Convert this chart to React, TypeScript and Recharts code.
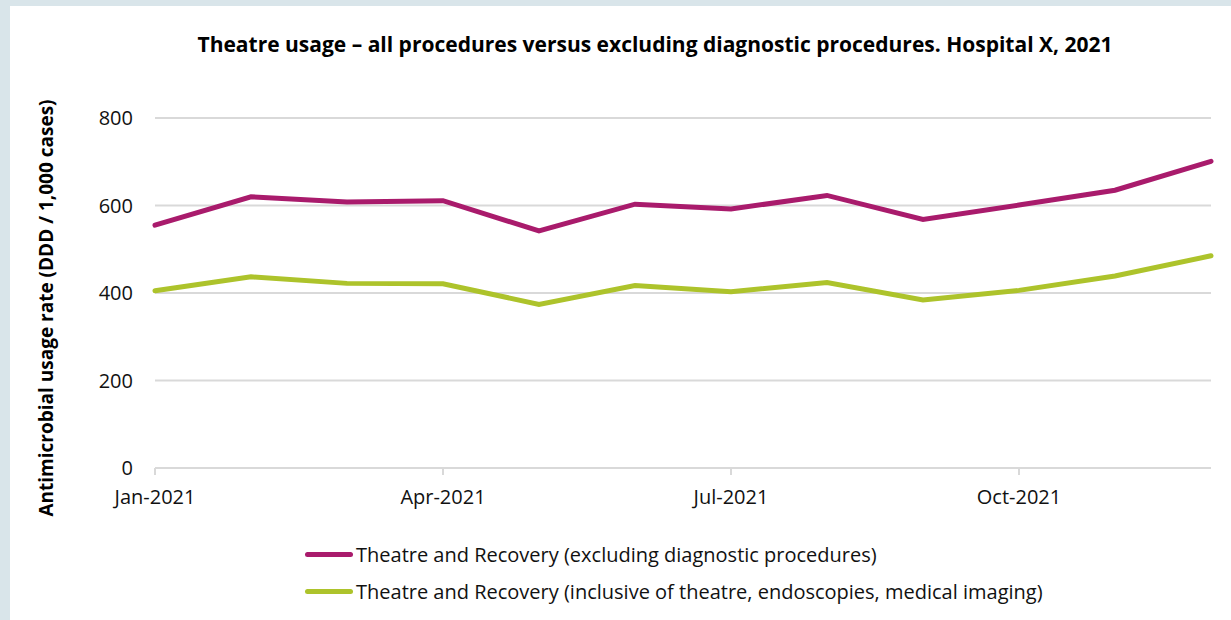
import { LineChart, Line, XAxis, YAxis, CartesianGrid } from 'recharts';

const months = [
  'Jan-2021', 'Feb-2021', 'Mar-2021', 'Apr-2021', 'May-2021', 'Jun-2021',
  'Jul-2021', 'Aug-2021', 'Sep-2021', 'Oct-2021', 'Nov-2021', 'Dec-2021',
];

// DDD / 1,000 cases
const excludingDiagnostic = [555, 620, 608, 611, 542, 603, 592, 623, 568, 601, 635, 701];
const inclusiveAll = [405, 437, 422, 421, 374, 417, 403, 424, 384, 406, 439, 485];

const yTicks = [0, 200, 400, 600, 800];

const seriesNames = [
  'Theatre and Recovery (excluding diagnostic procedures)',
  'Theatre and Recovery (inclusive of theatre, endoscopies, medical imaging)',
];

const MAGENTA = '#a91b6c';
const LIME = '#adc32b';
const GRID = '#d9d9d9';
const FONT = '"Open Sans", Lato, sans-serif';

const data = months.map((m, i) => ({
  month: m,
  excl: excludingDiagnostic[i],
  incl: inclusiveAll[i],
}));

const legendItems = [
  { name: seriesNames[0], color: MAGENTA },
  { name: seriesNames[1], color: LIME },
];

export default function App() {
  return (
    <div style={{ position: 'absolute', left: 0, top: 0, width: 1231, height: 620, background: '#d9e5ea', overflow: 'hidden' }}>
      <div style={{ position: 'absolute', left: 10, top: 6, width: 1221, height: 614, background: '#fff' }} />
      <div
        style={{
          position: 'absolute', left: 0, top: 30, width: 1310, textAlign: 'center',
          fontFamily: FONT, fontWeight: 700, fontSize: 21, color: '#000',
        }}
      >
        Theatre usage – all procedures versus excluding diagnostic procedures. Hospital X, 2021
      </div>
      <div style={{ position: 'absolute', left: 0, top: 0 }}>
        <LineChart width={1231} height={620} data={data} margin={{ top: 118, right: 20, bottom: 122, left: 10 }}>
          <CartesianGrid vertical={false} stroke={GRID} strokeWidth={2} />
          <XAxis
            dataKey="month"
            interval={2}
            stroke={GRID}
            strokeWidth={2}
            tickSize={7}
            tickMargin={15}
            tick={{ fill: '#111', fontSize: 20, fontFamily: FONT }}
          />
          <YAxis
            width={145}
            domain={[0, 800]}
            ticks={yTicks}
            axisLine={false}
            tickLine={false}
            tickMargin={16}
            tick={{ fill: '#111', fontSize: 20, fontFamily: FONT }}
            label={{
              value: 'Antimicrobial usage rate (DDD / 1,000 cases)',
              angle: -90,
              position: 'center',
              dx: -36,
              dy: 15,
              style: { fill: '#000', fontSize: 19, fontWeight: 700, fontFamily: FONT },
            }}
          />
          <Line
            type="linear"
            dataKey="excl"
            name={seriesNames[0]}
            stroke={MAGENTA}
            strokeWidth={5}
            strokeLinecap="round"
            dot={false}
            isAnimationActive={false}
          />
          <Line
            type="linear"
            dataKey="incl"
            name={seriesNames[1]}
            stroke={LIME}
            strokeWidth={5}
            strokeLinecap="round"
            dot={false}
            isAnimationActive={false}
          />
        </LineChart>
      </div>
      <div style={{ position: 'absolute', left: 305, top: 536, fontFamily: FONT, fontSize: 20, color: '#111' }}>
        {legendItems.map((it) => (
          <div key={it.name} style={{ display: 'flex', alignItems: 'center', height: 37 }}>
            <div style={{ width: 48, height: 5, borderRadius: 3, background: it.color, marginRight: 3 }} />
            <span>{it.name}</span>
          </div>
        ))}
      </div>
    </div>
  );
}
